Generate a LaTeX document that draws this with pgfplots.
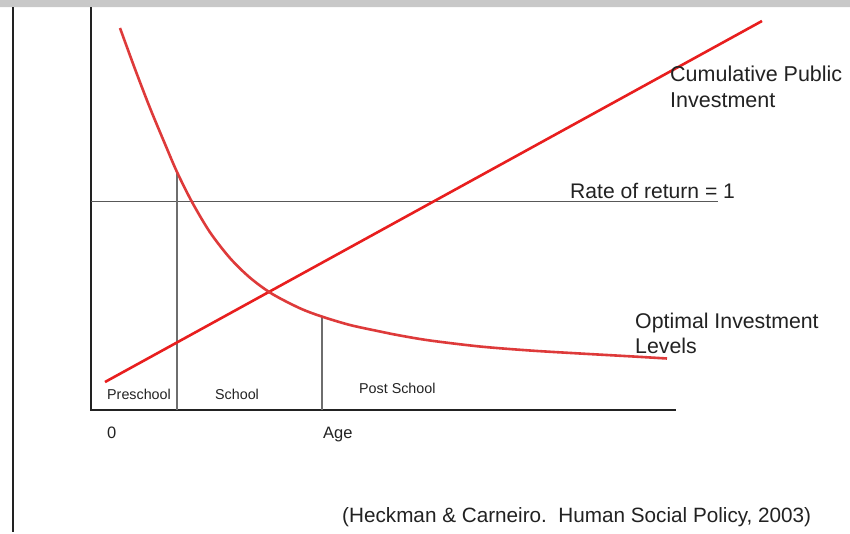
\documentclass[border=0pt]{standalone}
\usepackage{pgfplots}
\pgfplotsset{compat=1.18}
\usepackage{fontspec}
\setmainfont{Liberation Sans}
\definecolor{curvered}{RGB}{222,58,58}
\definecolor{linered}{RGB}{232,30,30}
\definecolor{axisdark}{RGB}{34,34,34}
\definecolor{thingray}{RGB}{110,110,110}
\definecolor{bargray}{RGB}{200,200,200}
\begin{document}
\begin{tikzpicture}
\begin{axis}[
  x=1pt, y=1pt,
  xmin=0, xmax=850, ymin=0, ymax=532,
  y dir=reverse,
  hide axis, clip=false, scale only axis,
]
% background and top bar
\addplot[fill=white, draw=none] coordinates {(0,0) (850,0) (850,532) (0,532)} \closedcycle;
\addplot[fill=bargray, draw=none] coordinates {(0,0) (850,0) (850,7) (0,7)} \closedcycle;
% left border
\addplot[axisdark, line width=2.6pt] coordinates {(13,7) (13,532)};
% axes
\addplot[axisdark, line width=2.6pt, line join=miter] coordinates {(91,7) (91,410) (676,410)};
% rate of return line
\addplot[thingray!80!black, line width=1.3pt] coordinates {(91,201.5) (718,201.5)};
% verticals
\addplot[thingray, line width=1.4pt] coordinates {(177,410) (177,172)};
\addplot[thingray, line width=1.4pt] coordinates {(322,410) (322,317)};
% cumulative public investment
\addplot[linered, line width=2.6pt] coordinates {(105,382) (762,21)};
% optimal investment levels
\addplot[curvered, line width=2.6pt, smooth] coordinates {
 (120,28) (135,69) (150,108) (165,144) (177,172) (192,202) (210,232.3)
 (230,258.1) (250,277.7) (272,293.8) (300,308.3) (322,316.6) (350,325) (380,331.5)
 (400,335.5) (430,340.5) (480,346.5) (530,350.5) (580,353.5) (630,356.3) (667,358.5)};
% labels
\node[anchor=base west, inner sep=0pt, font=\fontsize{21.5}{25}\selectfont, text=axisdark] at (axis cs:670,81) {Cumulative Public};
\node[anchor=base west, inner sep=0pt, font=\fontsize{21.5}{25}\selectfont, text=axisdark] at (axis cs:670,107) {Investment};
\node[anchor=base west, inner sep=0pt, font=\fontsize{21.1}{25}\selectfont, text=axisdark] at (axis cs:570,198) {Rate of return = 1};
\node[anchor=base west, inner sep=0pt, font=\fontsize{21.3}{25}\selectfont, text=axisdark] at (axis cs:635,328) {Optimal Investment};
\node[anchor=base west, inner sep=0pt, font=\fontsize{21.3}{25}\selectfont, text=axisdark] at (axis cs:635,353) {Levels};
\node[anchor=base west, inner sep=0pt, font=\fontsize{14.3}{17}\selectfont, text=axisdark] at (axis cs:107,399) {Preschool};
\node[anchor=base west, inner sep=0pt, font=\fontsize{14.3}{17}\selectfont, text=axisdark] at (axis cs:215,399) {School};
\node[anchor=base west, inner sep=0pt, font=\fontsize{14.3}{17}\selectfont, text=axisdark] at (axis cs:359,393) {Post School};
\node[anchor=base west, inner sep=0pt, font=\fontsize{16.5}{20}\selectfont, text=axisdark] at (axis cs:107,438) {0};
\node[anchor=base west, inner sep=0pt, font=\fontsize{16.5}{20}\selectfont, text=axisdark] at (axis cs:323,438) {Age};
\node[anchor=base west, inner sep=0pt, font=\fontsize{20.7}{24}\selectfont, text=axisdark] at (axis cs:342,522) {(Heckman \& Carneiro.\ \ Human Social Policy, 2003)};
\end{axis}
\end{tikzpicture}
\end{document}
